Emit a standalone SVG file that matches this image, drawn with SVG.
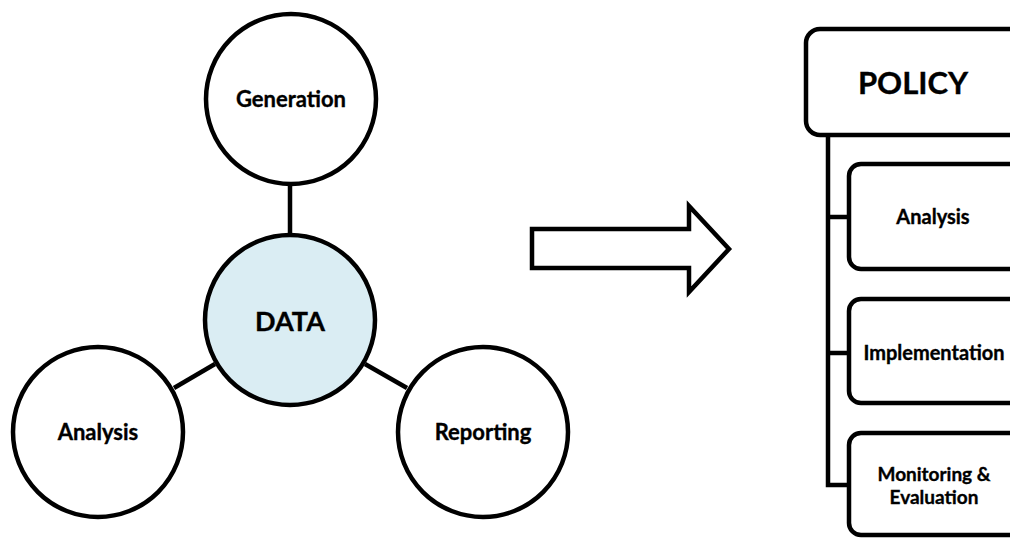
<svg xmlns="http://www.w3.org/2000/svg" width="1010" height="538" viewBox="0 0 1010 538">
<style>
.c{fill:#fff;stroke:#000;stroke-width:4.5}
.d{fill:#daedf3;stroke:#000;stroke-width:4.5}
.b{fill:#fff;stroke:#000;stroke-width:4.5}
.ln{stroke:#000;stroke-width:4.5;fill:none}
text{font-family:Lato,"Open Sans","Liberation Sans",sans-serif;font-weight:700;text-anchor:middle;fill:#000;stroke:#000;stroke-width:0.35}
.t{font-size:22px}
.tb{font-size:20px}
.tm{font-size:19px}
</style>
<rect width="1010" height="538" fill="#fff"/>
<g id="connectors">
<line class="ln" x1="290" y1="184" x2="290" y2="236"/>
<line class="ln" x1="215" y1="364" x2="174" y2="388"/>
<line class="ln" x1="365" y1="364" x2="407" y2="388"/>
<polyline class="ln" points="828,135 828,485 847,485"/>
<line class="ln" x1="828" y1="217" x2="847" y2="217"/>
<line class="ln" x1="828" y1="353" x2="847" y2="353"/>
</g>
<g id="generation"><circle class="c" cx="291" cy="99" r="85"/><text class="t" x="291" y="107">Generation</text></g>
<g id="data"><circle class="d" cx="290" cy="320" r="85"/><text x="290" y="331" font-size="27">DATA</text></g>
<g id="analysis-circle"><circle class="c" cx="98" cy="432" r="85"/><text class="t" x="98" y="440">Analysis</text></g>
<g id="reporting"><circle class="c" cx="483" cy="432" r="85"/><text class="t" x="483" y="440">Reporting</text></g>
<g id="arrow"><polygon class="ln" fill="#fff" points="532,229 689,229 689,206 729,249 689,292 689,268 532,268"/></g>
<g id="policy"><rect class="b" x="806" y="29" width="230" height="106" rx="14"/><text x="913" y="94" font-size="31">POLICY</text></g>
<g id="analysis-box"><rect class="b" x="849" y="164" width="200" height="105" rx="12"/><text class="tb" x="933" y="224">Analysis</text></g>
<g id="implementation"><rect class="b" x="849" y="299" width="200" height="104" rx="12"/><text class="tb" x="934" y="360">Implementation</text></g>
<g id="monitoring"><rect class="b" x="849" y="433" width="200" height="102" rx="12"/><text class="tm" x="934" y="481">Monitoring &amp;</text><text class="tm" x="934" y="504">Evaluation</text></g>
</svg>
